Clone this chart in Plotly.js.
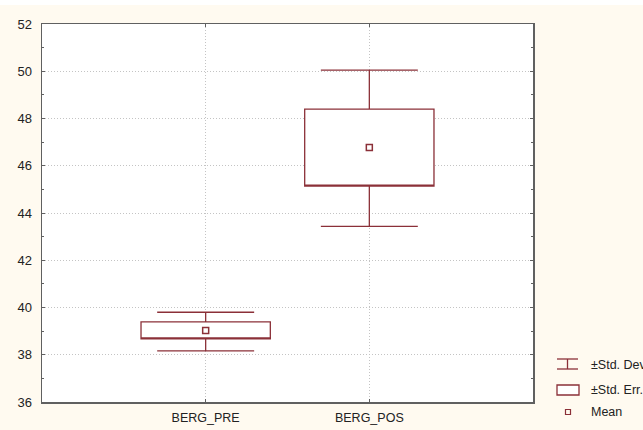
<!DOCTYPE html>
<html>
<head>
<meta charset="utf-8">
<script src="https://cdn.plot.ly/plotly-3.0.1.min.js"></script>
<style>
  html, body { margin: 0; padding: 0; background: #ffffff; }
  #chart { position: absolute; left: 0; top: 5px; width: 643px; height: 425px; }
</style>
</head>
<body>
<div id="chart"></div>
<script>
// ---- data ----
var categories = ["BERG_PRE", "BERG_POS"];
var means      = [39.03, 46.77];
var seLow      = [38.67, 45.14];   // mean - std. err.
var seHigh     = [39.39, 48.40];   // mean + std. err.
var sdLow      = [38.16, 43.43];   // mean - std. dev.
var sdHigh     = [39.80, 50.05];   // mean + std. dev.
var yTicks     = [36, 38, 40, 42, 44, 46, 48, 50, 52];
var legendLabels = ["\u00b1Std. Dev.", "\u00b1Std. Err.", "Mean"];

var col = "#8b3038";
var font = "Liberation Sans, Arial, sans-serif";

// plot-area geometry in page pixels (for the drawn legend)
var PL = 42, PR = 533, PT = 24, PB = 402;
function px(x) { return (x - PL) / (PR - PL); }
function py(y) { return (PB - y) / (PB - PT); }

var boxTrace = {
  type: "box",
  x: categories,
  q1: seLow,
  median: seLow,
  q3: seHigh,
  lowerfence: sdLow,
  upperfence: sdHigh,
  width: 0.79,
  whiskerwidth: 0.75,
  fillcolor: "#ffffff",
  line: { color: col, width: 1.3 },
  hoverinfo: "skip",
  showlegend: false
};

var meanTrace = {
  type: "scatter",
  mode: "markers",
  x: categories,
  y: means,
  marker: { symbol: "square-open", size: 6, color: col, line: { color: col, width: 1.5 } },
  hoverinfo: "skip",
  showlegend: false
};

// custom legend (icons drawn as shapes, labels as annotations)
var shapes = [
  { type: "line", xref: "paper", yref: "paper", x0: px(557), x1: px(578), y0: py(359), y1: py(359), line: { color: col, width: 1.3 } },
  { type: "line", xref: "paper", yref: "paper", x0: px(567.5), x1: px(567.5), y0: py(359), y1: py(369), line: { color: col, width: 1.3 } },
  { type: "line", xref: "paper", yref: "paper", x0: px(557), x1: px(578), y0: py(369), y1: py(369), line: { color: col, width: 1.3 } },
  { type: "rect", xref: "paper", yref: "paper", x0: px(557), x1: px(579), y0: py(395), y1: py(385), fillcolor: "#ffffff", line: { color: col, width: 1.3 } },
  { type: "rect", xref: "paper", yref: "paper", x0: px(565.5), x1: px(570.5), y0: py(414.5), y1: py(409.5), fillcolor: "rgba(0,0,0,0)", line: { color: col, width: 1.2 } }
];
var legendY = [365, 390, 412];
var annotations = legendLabels.map(function (t, i) {
  return {
    text: t, xref: "paper", yref: "paper",
    x: px(589), y: py(legendY[i]), xanchor: "left", yanchor: "middle",
    showarrow: false, font: { family: font, size: 12.5, color: "#222222" }
  };
});

var layout = {
  width: 643,
  height: 425,
  margin: { l: 42, r: 110, t: 19, b: 28 },
  paper_bgcolor: "#fffaf0",
  plot_bgcolor: "#ffffff",
  showlegend: false,
  font: { family: font, size: 13, color: "#222222" },
  xaxis: {
    type: "category",
    range: [-1, 2],
    showline: true, linecolor: "#606060", linewidth: 1.5, mirror: "ticks",
    ticks: "inside", ticklen: 3, tickcolor: "#606060",
    showgrid: true, gridcolor: "#c4c4c4", griddash: "1px,2px", gridwidth: 1,
    zeroline: false,
    ticklabelstandoff: 3,
    tickfont: { family: font, size: 12.5, color: "#222222" },
    fixedrange: true
  },
  yaxis: {
    range: [36, 52],
    tickvals: yTicks,
    ticktext: yTicks.map(String),
    showline: true, linecolor: "#606060", linewidth: 1.5, mirror: "ticks",
    ticks: "inside", ticklen: 3, tickcolor: "#606060",
    minor: { dtick: 1, ticks: "inside", ticklen: 2, tickcolor: "#606060", showgrid: false },
    showgrid: true, gridcolor: "#c4c4c4", griddash: "1px,2px", gridwidth: 1,
    zeroline: false,
    ticklabelstandoff: 6,
    tickfont: { family: font, size: 13, color: "#222222" },
    fixedrange: true
  },
  shapes: shapes,
  annotations: annotations
};

Plotly.newPlot("chart", [boxTrace, meanTrace], layout, { staticPlot: true, displayModeBar: false });
</script>
</body>
</html>
